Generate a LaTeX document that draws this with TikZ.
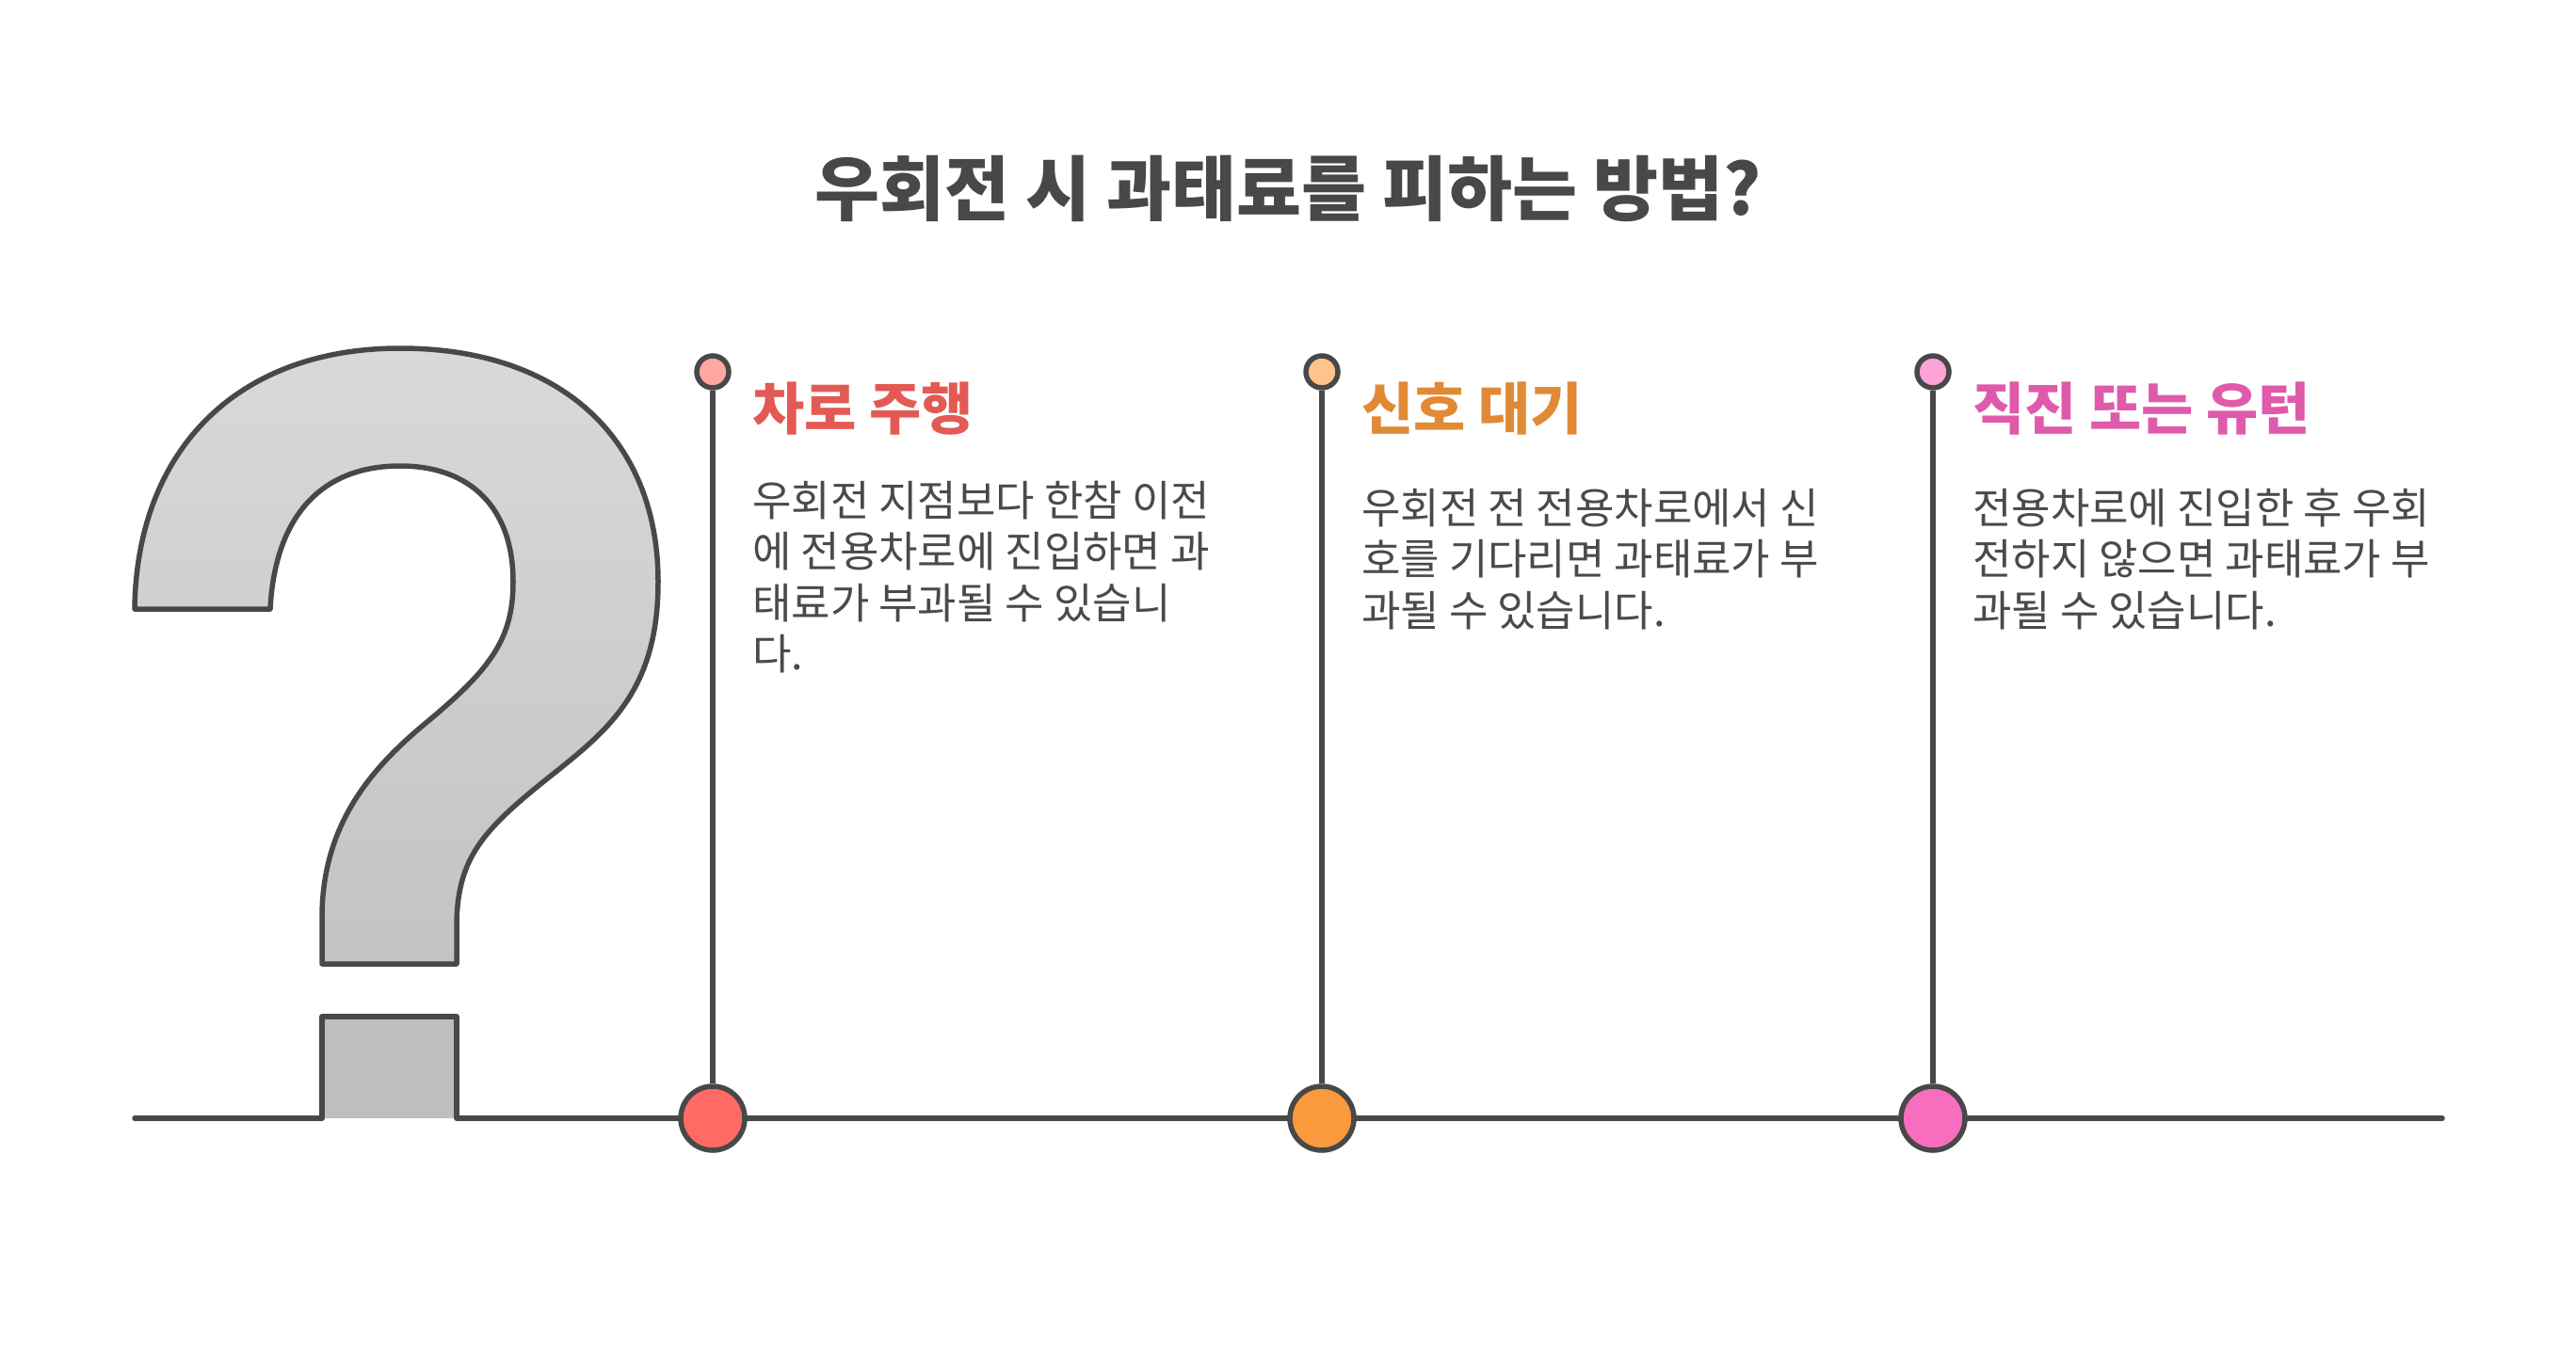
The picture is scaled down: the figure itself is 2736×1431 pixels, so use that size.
\documentclass[tikz,border=0pt]{standalone}
\usepackage{fontspec}
\setmainfont{Noto Sans CJK KR}
\newfontfamily\kr{Noto Sans CJK KR}
\definecolor{ink}{HTML}{484848}
\definecolor{txt}{HTML}{4A4A4A}
\definecolor{hred}{HTML}{E35A55}
\definecolor{horange}{HTML}{E08A36}
\definecolor{hpink}{HTML}{DF5AAA}
\definecolor{bred}{HTML}{FF6B64}
\definecolor{borange}{HTML}{FA9A3C}
\definecolor{bpink}{HTML}{F76EBE}
\definecolor{sred}{HTML}{FFA8A2}
\definecolor{sorange}{HTML}{FFC48B}
\definecolor{spink}{HTML}{FFA2D6}
\definecolor{qtop}{HTML}{D9D9D9}
\definecolor{qbot}{HTML}{C3C3C3}
\definecolor{qdot}{HTML}{BEBEBE}
\tikzset{
  stroke/.style={draw=ink, line width=5.5pt},
  bigdot/.style={circle, stroke, minimum size=68pt, inner sep=0pt},
  smalldot/.style={circle, stroke, minimum size=34pt, inner sep=0pt},
  headtxt/.style={anchor=base west, inner sep=0pt, font=\kr\bfseries\fontsize{60}{64}\selectfont},
  bodytxt/.style={anchor=base west, inner sep=0pt, text=txt, font=\kr\fontsize{45}{54.5}\selectfont},
}
\newcommand{\bodylines}[1]{\parbox[t]{600pt}{\raggedright #1}}
\begin{document}
\begin{tikzpicture}[x=1pt,y=-1pt]
\useasboundingbox (0,0) rectangle (2736,1431);
\fill[white] (0,0) rectangle (2736,1431);

% title
\node[anchor=base, inner sep=0pt, text=ink, font=\kr\bfseries\fontsize{75}{80}\selectfont] (title) at (1368,229) {우회전 시 과태료를 피하는 방법?};

% question mark
\shade[top color=qtop, bottom color=qbot]
  (143,647) .. controls (145,480) and (250,370) .. (425,370)
  .. controls (600,370) and (699,470) .. (699,618)
  .. controls (699,740) and (640,780) .. (574,833)
  .. controls (510,885) and (485,915) .. (485,985)
  -- (485,1024) -- (342,1024) -- (342,975)
  .. controls (342,880) and (390,820) .. (450,770)
  .. controls (520,712) and (545,680) .. (545,618)
  .. controls (545,540) and (500,495) .. (425,495)
  .. controls (340,495) and (292,550) .. (287,647)
  -- cycle;
\draw[stroke, line join=round]
  (143,647) .. controls (145,480) and (250,370) .. (425,370)
  .. controls (600,370) and (699,470) .. (699,618)
  .. controls (699,740) and (640,780) .. (574,833)
  .. controls (510,885) and (485,915) .. (485,985)
  -- (485,1024) -- (342,1024) -- (342,975)
  .. controls (342,880) and (390,820) .. (450,770)
  .. controls (520,712) and (545,680) .. (545,618)
  .. controls (545,540) and (500,495) .. (425,495)
  .. controls (340,495) and (292,550) .. (287,647)
  -- cycle;
\fill[qdot] (342,1080) rectangle (485,1188);

% baseline with the dot outline
\coordinate (lstart) at (143,1188);
\coordinate (lend) at (2594,1188);
\draw[stroke, line join=round, line cap=round] (lstart) -- (342,1188) -- (342,1080) -- (485,1080) -- (485,1188) -- (lend);

% timelines
\node[smalldot, fill=sred] (s1) at (757,395) {};
\node[smalldot, fill=sorange] (s2) at (1404,395) {};
\node[smalldot, fill=spink] (s3) at (2053,395) {};
\node[bigdot, fill=bred] (b1) at (757,1188) {};
\node[bigdot, fill=borange] (b2) at (1404,1188) {};
\node[bigdot, fill=bpink] (b3) at (2053,1188) {};
\draw[stroke] (s1) -- (b1);
\draw[stroke] (s2) -- (b2);
\draw[stroke] (s3) -- (b3);

% headings
\node[headtxt, text=hred] (h1) at (799,456) {차로 주행};
\node[headtxt, text=horange] (h2) at (1446,456) {신호 대기};
\node[headtxt, text=hpink] (h3) at (2095,456) {직진 또는 유턴};

% bodies
\node[bodytxt] (t1) at (799,548) {\bodylines{우회전 지점보다 한참 이전\\에 전용차로에 진입하면 과\\태료가 부과될 수 있습니\\다.}};
\node[bodytxt] (t2) at (1446,556) {\bodylines{우회전 전 전용차로에서 신\\호를 기다리면 과태료가 부\\과될 수 있습니다.}};
\node[bodytxt] (t3) at (2095,556) {\bodylines{전용차로에 진입한 후 우회\\전하지 않으면 과태료가 부\\과될 수 있습니다.}};
\end{tikzpicture}
\end{document}
